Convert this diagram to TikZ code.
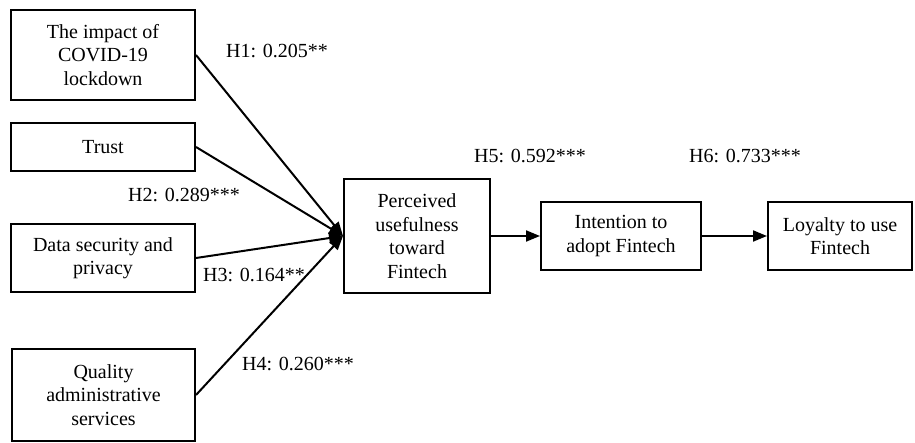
\documentclass[tikz,border=0pt]{standalone}
\usepackage{fontspec}
\setmainfont{Liberation Serif}
\usetikzlibrary{arrows.meta}
\begin{document}
\begin{tikzpicture}[x=1pt,y=-1pt,
  box/.style={draw,line width=2pt,align=center,inner sep=0pt,font=\fontsize{20}{23.5}\selectfont},
  lbl/.style={font=\fontsize{20}{23.5}\selectfont,inner sep=0pt},
  conn/.style={line width=2pt,-{Triangle[length=14pt,width=11pt]}}]
\useasboundingbox (0,0) rectangle (915,443);
\node[box,minimum width=184pt,minimum height=90pt] (imp) at (103,55) {The impact of\\COVID-19\\lockdown};
\node[box,minimum width=184pt,minimum height=48pt] (tru) at (103,147) {Trust};
\node[box,minimum width=184pt,minimum height=68pt] (dat) at (103,258) {Data security and\\privacy};
\node[box,minimum width=183pt,minimum height=92pt] (qua) at (103.5,395) {Quality\\administrative\\services};
\node[box,minimum width=146pt,minimum height=114pt] (per) at (417,236) {Perceived\\usefulness\\toward\\Fintech};
\node[box,minimum width=160pt,minimum height=68pt] (int) at (621,236) {Intention to\\adopt Fintech};
\node[box,minimum width=144pt,minimum height=68pt] (loy) at (840,236) {Loyalty to use\\Fintech};
\draw[conn] (imp.east) -- (per.west);
\draw[conn] (tru.east) -- (per.west);
\draw[conn] (dat.east) -- (per.west);
\draw[conn] (qua.east) -- (per.west);
\draw[conn] (per.east) -- (int.west);
\draw[conn] (int.east) -- (loy.west);
\node[lbl] (h1) at (277,51) {H1: 0.205**};
\node[lbl] (h2) at (184,195) {H2: 0.289***};
\node[lbl] (h3) at (254,275) {H3: 0.164**};
\node[lbl] (h4) at (298,364) {H4: 0.260***};
\node[lbl] (h5) at (530,156) {H5: 0.592***};
\node[lbl] (h6) at (745,156) {H6: 0.733***};
\end{tikzpicture}
\end{document}
